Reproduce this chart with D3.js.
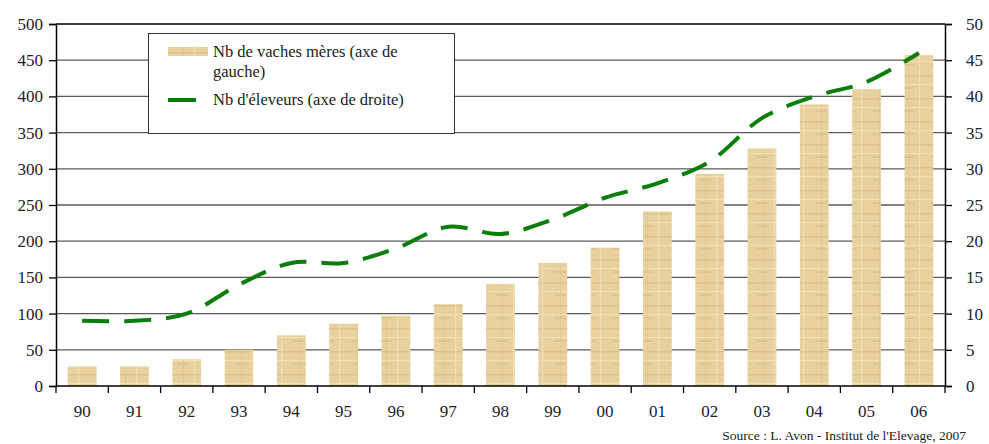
<!DOCTYPE html>
<html><head><meta charset="utf-8">
<script src="https://cdn.jsdelivr.net/npm/d3@7"></script>
<style>body{margin:0;background:#fff}</style>
</head><body><svg id="c" width="989" height="444"></svg>
<script>
const categories = ["90","91","92","93","94","95","96","97","98","99","00","01","02","03","04","05","06"];
const vaches = [27,27,37,50,70,86,97,113,141,170,191,241,293,328,389,410,457];
const eleveurs = [9,9,10,14,17,17,19,22,21,23,26,28,31,37,40,42,46];
const leftTicks = [0,50,100,150,200,250,300,350,400,450,500];
const rightTicks = [0,5,10,15,20,25,30,35,40,45,50];
const legendLabels = ["Nb de vaches mères (axe de", "gauche)", "Nb d'éleveurs (axe de droite)"];
const sourceText = "Source : L. Avon - Institut de l'Elevage, 2007";
const FONT = "'Liberation Serif', 'DejaVu Serif', 'Times New Roman', serif";

const svg = d3.select("#c");
const L = 56, R = 945, T = 24, B = 386;
const x = d3.scaleBand().domain(categories).range([L, R]).paddingInner(0.45).paddingOuter(0.225);
const xb = d3.scaleBand().domain(categories).range([L, R]);
const yL = d3.scaleLinear().domain([0, 500]).range([B, T]);
const yR = d3.scaleLinear().domain([0, 50]).range([B, T]);

// pattern for bars
const defs = svg.append("defs");
const pat = defs.append("pattern").attr("id","parch").attr("patternUnits","userSpaceOnUse").attr("width",29).attr("height",23);
pat.append("rect").attr("width",29).attr("height",23).attr("fill","#e8d19e");
pat.append("rect").attr("x",0).attr("y",6).attr("width",29).attr("height",1.5).attr("fill","#d8bd85").attr("opacity",0.7);
pat.append("rect").attr("x",0).attr("y",15).attr("width",29).attr("height",1).attr("fill","#f3e3bd").attr("opacity",0.9);
pat.append("rect").attr("x",9).attr("y",0).attr("width",1).attr("height",23).attr("fill","#dcc38c").attr("opacity",0.6);
pat.append("rect").attr("x",20).attr("y",0).attr("width",1.2).attr("height",23).attr("fill","#f2e2bb").attr("opacity",0.8);
pat.append("rect").attr("x",3).attr("y",18).attr("width",12).attr("height",2).attr("fill","#d6bb82").attr("opacity",0.5);

// gridlines
svg.append("g").selectAll("line").data(leftTicks.filter(d=>d>0)).join("line")
  .attr("x1", L).attr("x2", R).attr("y1", d=>yL(d)).attr("y2", d=>yL(d))
  .attr("stroke", d=> d===500 ? "#000" : "#5a5a5a").attr("stroke-width", 1.3);

// bars
svg.append("g").selectAll("rect").data(vaches).join("rect")
  .attr("x",(d,i)=>x(categories[i])).attr("width",x.bandwidth())
  .attr("y",d=>yL(d)).attr("height",d=>B-yL(d))
  .attr("fill","url(#parch)");

// line
const line = d3.line().x((d,i)=>xb(categories[i])+xb.bandwidth()/2).y(d=>yR(d)).curve(d3.curveCatmullRom.alpha(0.5));
svg.append("path").datum(eleveurs).attr("d",line).attr("fill","none")
  .attr("stroke","#0a7d0a").attr("stroke-width",4).attr("stroke-dasharray","27,15");

// axes
const gl = svg.append("g").attr("transform",`translate(${L},0)`)
  .call(d3.axisLeft(yL).tickValues(leftTicks).tickSize(7).tickPadding(6));
const gr = svg.append("g").attr("transform",`translate(${R},0)`)
  .call(d3.axisRight(yR).tickValues(rightTicks).tickSize(7).tickPadding(14));
const gb = svg.append("g").attr("transform",`translate(0,${B})`)
  .call(d3.axisBottom(xb).tickSize(0).tickPadding(19));
[gl,gr,gb].forEach(g=>{
  g.attr("font-family", null);
  g.select(".domain").attr("stroke","#000").attr("stroke-width",1.5);
  g.selectAll(".tick line").attr("stroke","#000").attr("stroke-width",1.3);
  g.selectAll("text").attr("font-size",17).attr("fill","#222").style("font-family",FONT);
});
gb.select(".domain").attr("d",`M${L},0H${R}`);
// bottom ticks at band boundaries
svg.append("g").selectAll("line").data(categories.concat(["end"])).join("line")
  .attr("x1",(d,i)=>L+i*xb.step()).attr("x2",(d,i)=>L+i*xb.step())
  .attr("y1",B).attr("y2",B+7).attr("stroke","#000").attr("stroke-width",1.3);

// legend
const lg = svg.append("g");
lg.append("rect").attr("x",148.5).attr("y",33.5).attr("width",306).attr("height",100)
  .attr("fill","#fff").attr("stroke","#333").attr("stroke-width",1);
lg.append("rect").attr("x",168).attr("y",47).attr("width",40).attr("height",9).attr("fill","url(#parch)");
lg.append("line").attr("x1",168).attr("x2",196).attr("y1",100).attr("y2",100).attr("stroke","#0a7d0a").attr("stroke-width",4);
lg.append("text").attr("x",213).attr("y",57).text(legendLabels[0]);
lg.append("text").attr("x",213).attr("y",77).text(legendLabels[1]);
lg.append("text").attr("x",213).attr("y",105).text(legendLabels[2]);
lg.selectAll("text").attr("font-size",16.5).attr("fill","#222").style("font-family",FONT);

// source
svg.append("text").attr("x",966).attr("y",440).attr("text-anchor","end").attr("font-size",13.5).attr("fill","#222").style("font-family",FONT).text(sourceText);
</script></body></html>
